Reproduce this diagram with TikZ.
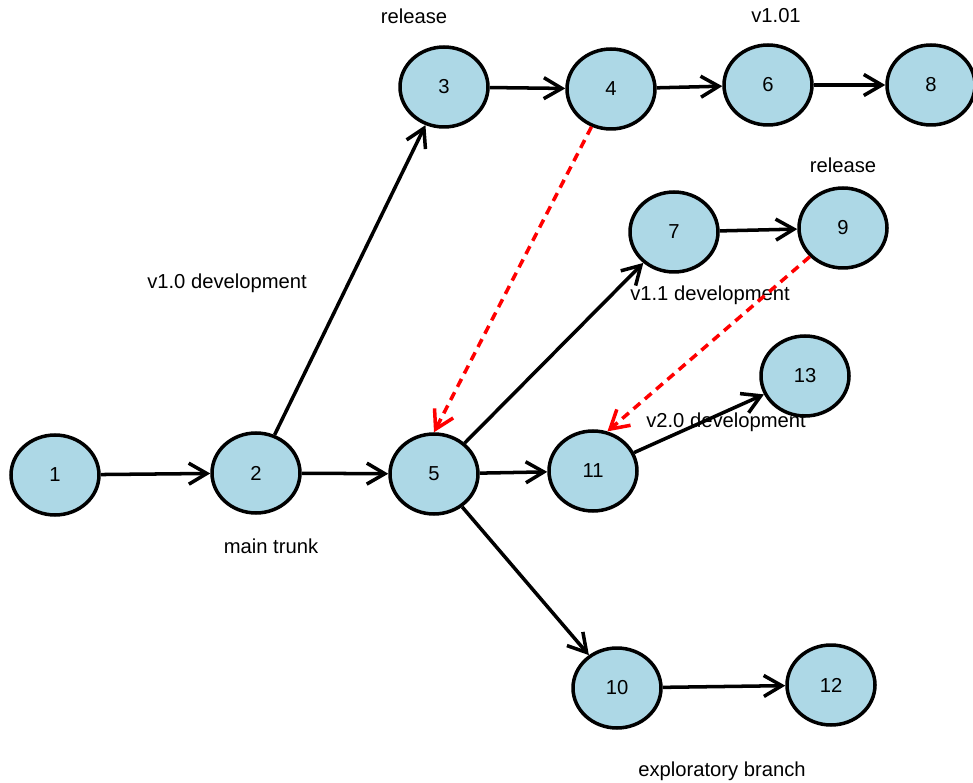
\documentclass[tikz,border=0pt]{standalone}
\usepackage{fontspec}
\setmainfont{Liberation Sans}
\usetikzlibrary{arrows.meta,shapes.geometric}
\definecolor{nodeblue}{RGB}{173,216,230}
\begin{document}
\begin{tikzpicture}[x=0.02cm,y=-0.02cm]
\tikzstyle{vertex}=[ellipse,draw=black,line width=2pt,fill=nodeblue,minimum width=1.76cm,minimum height=1.6cm,inner sep=0pt,font=\fontsize{11.5}{13}\selectfont]
\tikzstyle{tag}=[font=\fontsize{11.5}{13}\selectfont,inner sep=0pt]
\tikzstyle{edge}=[line width=2pt,-{Straight Barb[length=3.6mm,width=4.2mm,line width=2pt]}]
\tikzstyle{merge}=[edge,red,dash pattern=on 5pt off 3.5pt]
\useasboundingbox (0,0) rectangle (973,783);
\node[vertex] (V1) at (55, 475) {1};
\node[vertex] (V2) at (256, 473) {2};
\node[vertex] (V3) at (444, 87) {3};
\node[vertex] (V4) at (611, 89) {4};
\node[vertex] (V5) at (434, 474) {5};
\node[vertex] (V6) at (768, 85) {6};
\node[vertex] (V7) at (674, 232) {7};
\node[vertex] (V8) at (931, 85) {8};
\node[vertex] (V9) at (843, 228) {9};
\node[vertex] (V10) at (617, 688) {10};
\node[vertex] (V11) at (593, 471) {11};
\node[vertex] (V12) at (831, 685) {12};
\node[vertex] (V13) at (805, 376) {13};
\node[tag] (L1) at (414, 16) {release};
\node[tag] (L2) at (776, 16) {v1.01};
\node[tag] (L3) at (843, 165) {release};
\node[tag] (L4) at (227, 283) {v1.0 development};
\node[tag] (L5) at (710, 295) {v1.1 development};
\node[tag] (L6) at (726, 422) {v2.0 development};
\node[tag] (L7) at (271, 546) {main trunk};
\node[tag] (L8) at (722, 771) {exploratory branch};
\draw[edge] (V1) -- (V2);
\draw[edge] (V2) -- (V3);
\draw[edge] (V2) -- (V5);
\draw[edge] (V3) -- (V4);
\draw[edge] (V4) -- (V6);
\draw[edge] (V6) -- (V8);
\draw[edge] (V5) -- (V7);
\draw[edge] (V5) -- (V11);
\draw[edge] (V5) -- (V10);
\draw[edge] (V7) -- (V9);
\draw[edge] (V11) -- (V13);
\draw[edge] (V10) -- (V12);
\draw[merge] (V4) -- (V5.north);
\draw[merge] (V9) -- (V11.70);
\end{tikzpicture}
\end{document}
